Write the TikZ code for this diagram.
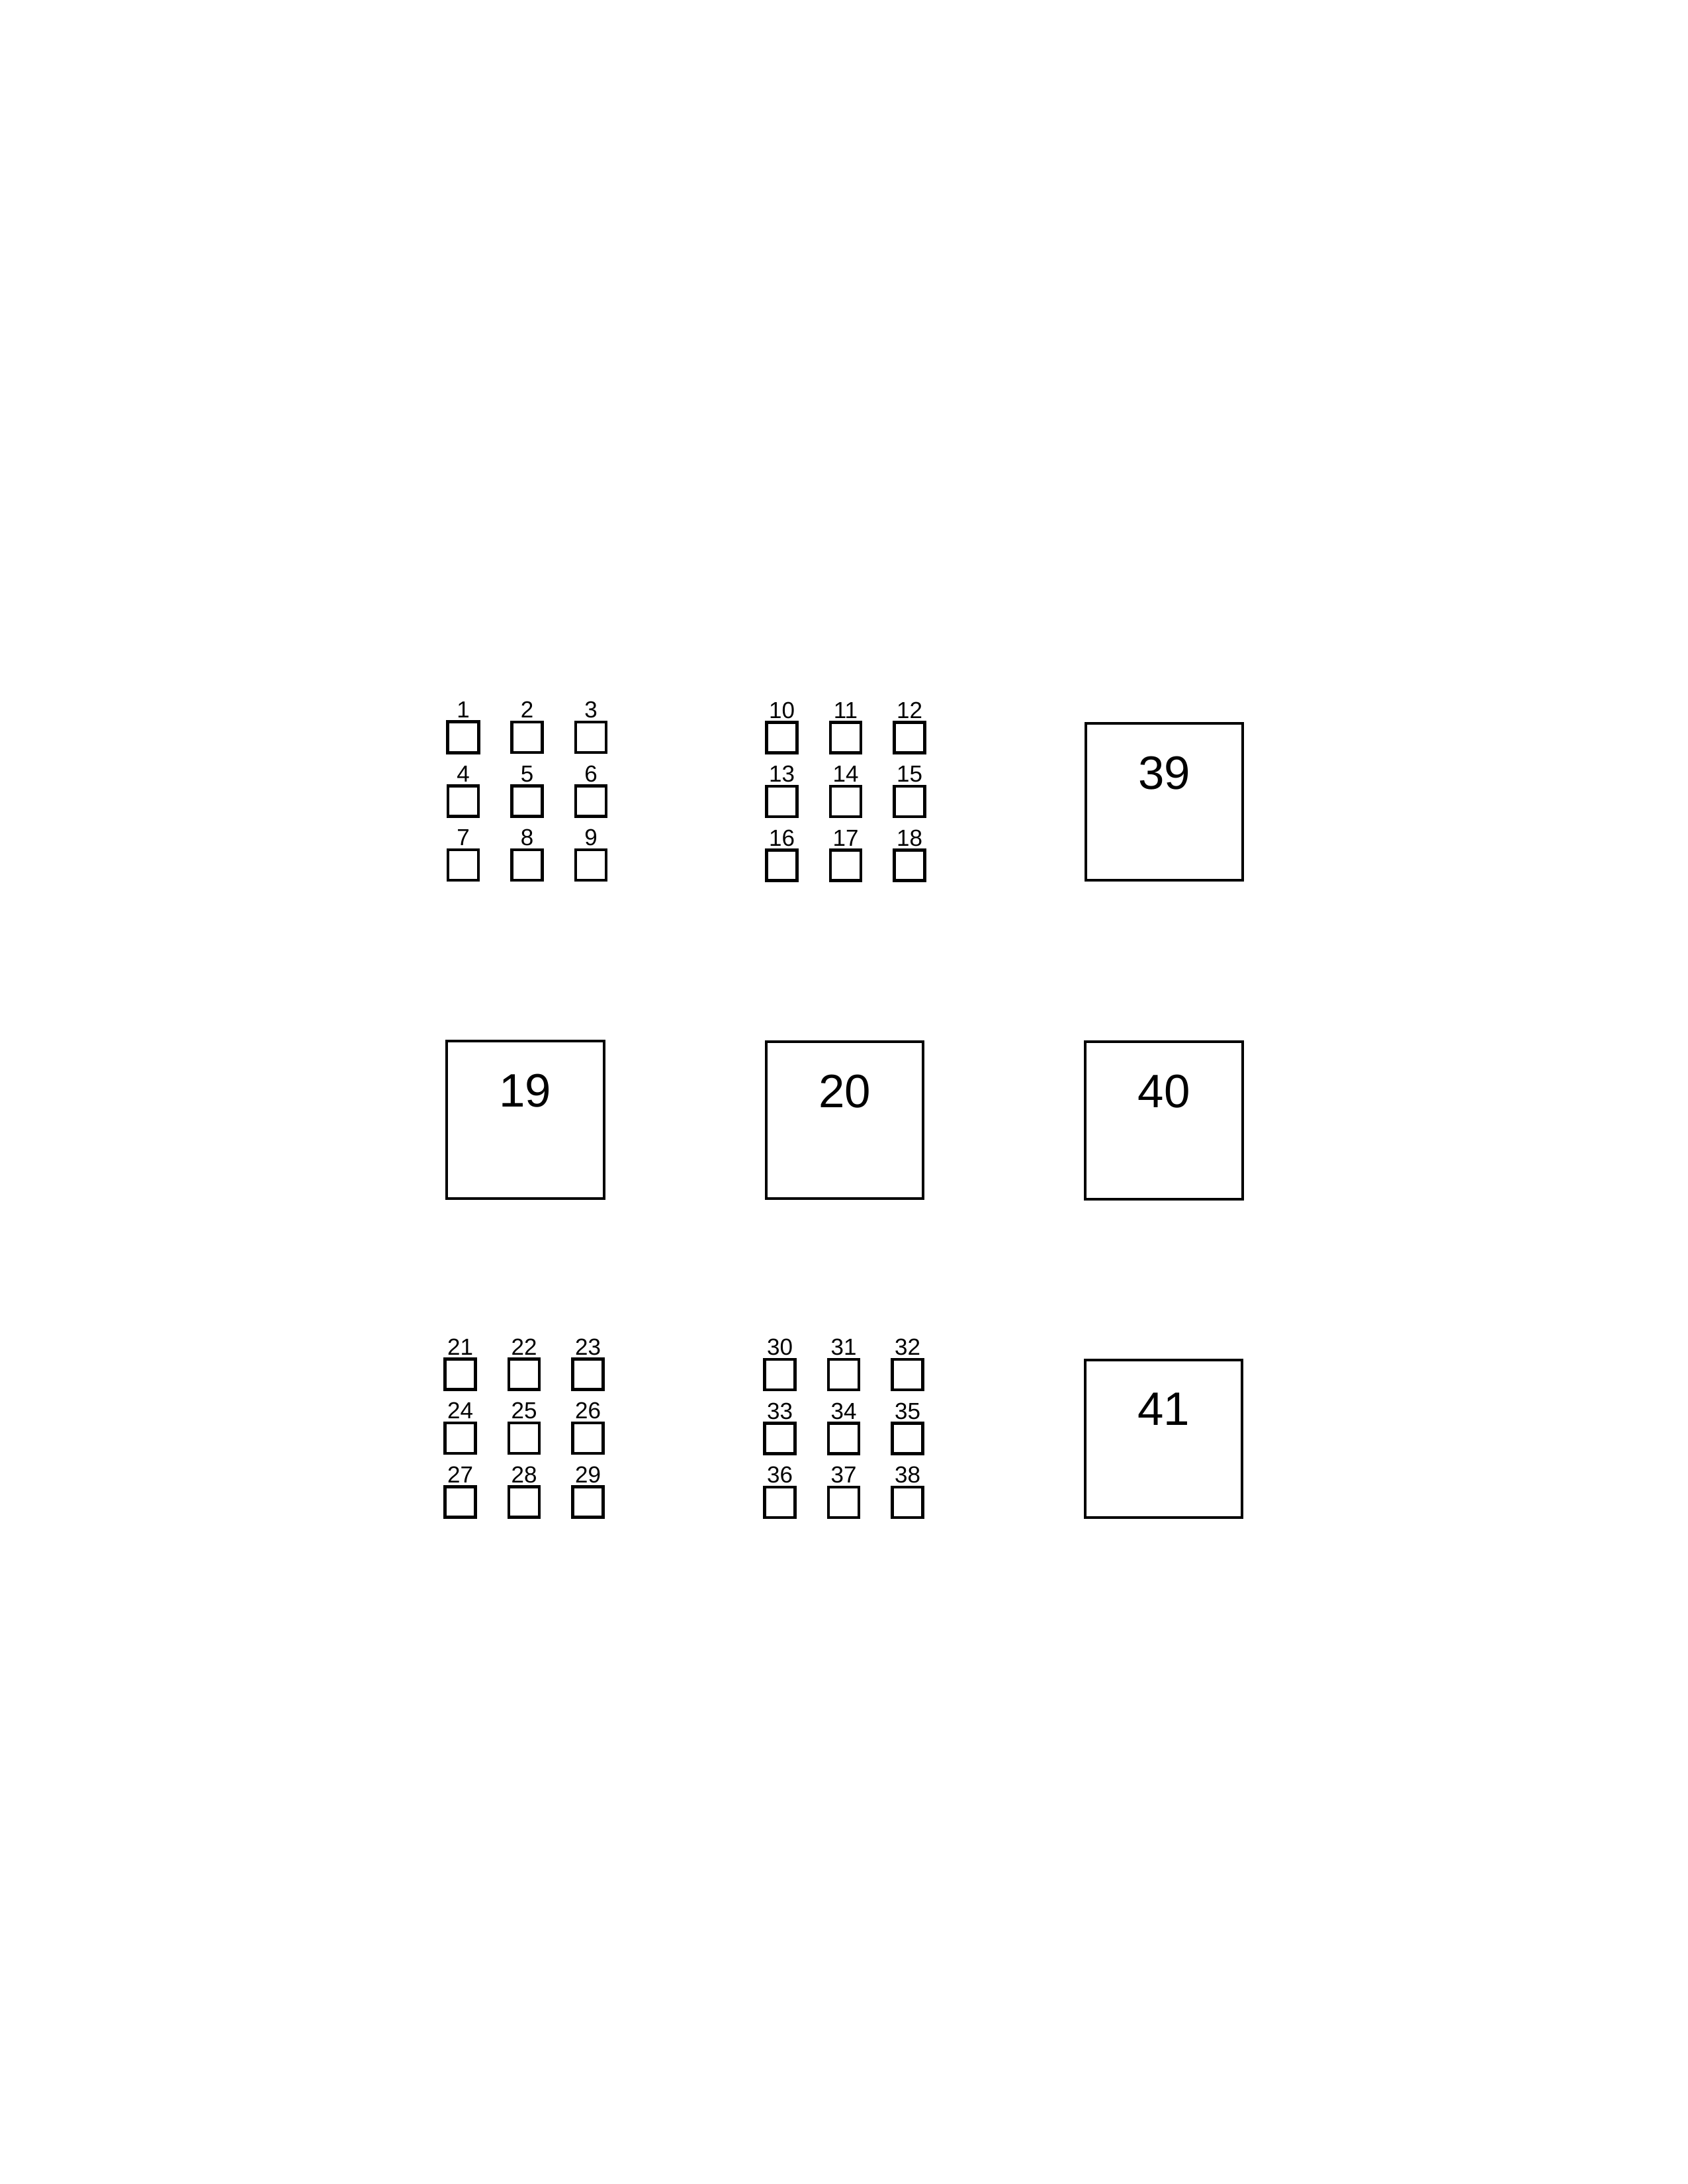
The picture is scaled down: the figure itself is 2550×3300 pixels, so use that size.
\documentclass[tikz,border=0pt]{standalone}
\usepackage{fontspec}
\setmainfont{Liberation Sans}
\usetikzlibrary{positioning}
\tikzset{
	cell/.style={draw, line width=1.05pt, minimum size=11.1pt, inner sep=0pt, on grid, node distance=23.16pt},
	lbl/.style={inner sep=0pt, font=\fontsize{8.4}{10}\selectfont},
	bigcell/.style={draw, line width=0.9pt, minimum size=57pt, inner sep=0pt},
	biglbl/.style={inner sep=0pt, font=\fontsize{17}{20}\selectfont},
	every label/.style={lbl},
	label distance=0.7pt
}

\begin{document}
\begin{tikzpicture}[x=0.24pt, y=-0.24pt]
	\useasboundingbox (0,0) rectangle (2550,3300);
	%% block 1-9
	\node[cell, label=above:1, line width=1.2pt] (c1) at (700,1114) {}; % top left
	\node[cell, label=above:2, right=of c1] (c2) {};
	\node[cell, label=above:3, right=of c2] (c3) {};
	\node[cell, label=above:4, below=of c1] (c4) {};
	\node[cell, label=above:5, right=of c4] (c5) {};
	\node[cell, label=above:6, right=of c5] (c6) {};
	\node[cell, label=above:7, below=of c4] (c7) {};
	\node[cell, label=above:8, right=of c7] (c8) {};
	\node[cell, label=above:9, right=of c8] (c9) {};
	%% block 10-18
	\node[cell, label=above:10] (c10) at (1181.5,1114.5) {};
	\node[cell, label=above:11, right=of c10] (c11) {};
	\node[cell, label=above:12, right=of c11] (c12) {};
	\node[cell, label=above:13, below=of c10] (c13) {};
	\node[cell, label=above:14, right=of c13] (c14) {};
	\node[cell, label=above:15, right=of c14] (c15) {};
	\node[cell, label=above:16, below=of c13] (c16) {};
	\node[cell, label=above:17, right=of c16] (c17) {};
	\node[cell, label=above:18, right=of c17] (c18) {};
	%% block 21-29
	\node[cell, label=above:21] (c21) at (695.5,2076.5) {};
	\node[cell, label=above:22, right=of c21] (c22) {};
	\node[cell, label=above:23, right=of c22] (c23) {};
	\node[cell, label=above:24, below=of c21] (c24) {};
	\node[cell, label=above:25, right=of c24] (c25) {};
	\node[cell, label=above:26, right=of c25] (c26) {};
	\node[cell, label=above:27, below=of c24] (c27) {};
	\node[cell, label=above:28, right=of c27] (c28) {};
	\node[cell, label=above:29, right=of c28] (c29) {};
	%% block 30-38
	\node[cell, label=above:30] (c30) at (1178.5,2077) {};
	\node[cell, label=above:31, right=of c30] (c31) {};
	\node[cell, label=above:32, right=of c31] (c32) {};
	\node[cell, label=above:33, below=of c30] (c33) {};
	\node[cell, label=above:34, right=of c33] (c34) {};
	\node[cell, label=above:35, right=of c34] (c35) {};
	\node[cell, label=above:36, below=of c33] (c36) {};
	\node[cell, label=above:37, right=of c36] (c37) {};
	\node[cell, label=above:38, right=of c37] (c38) {};
	%% big ones
	\node[bigcell] (c39) at (1759.5,1211.5) {};
	\node[biglbl, below=12.2pt of c39.north] (t39) {39};
	\node[bigcell] (c19) at (794,1692) {};
	\node[biglbl, below=12.2pt of c19.north] (t19) {19};
	\node[bigcell] (c20) at (1276.5,1692.5) {};
	\node[biglbl, below=12.2pt of c20.north] (t20) {20};
	\node[bigcell] (c40) at (1759,1693) {};
	\node[biglbl, below=12.2pt of c40.north] (t40) {40};
	\node[bigcell] (c41) at (1758.5,2174) {};
	\node[biglbl, below=12.2pt of c41.north] (t41) {41};
\end{tikzpicture}
\end{document}
